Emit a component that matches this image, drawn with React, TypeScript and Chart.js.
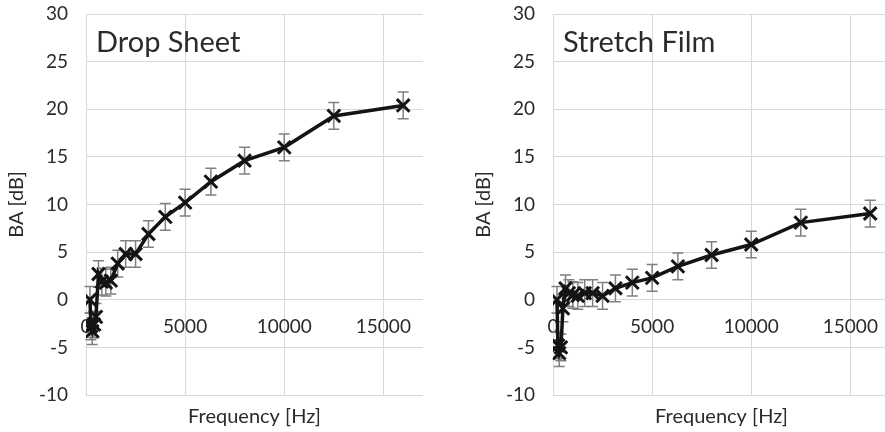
import React, { useEffect, useRef } from "react";
import { Chart, registerables } from "chart.js";

Chart.register(...registerables);

// ---- Data ----
const frequencies = [200, 250, 315, 400, 500, 630, 800, 1000, 1250, 1600, 2000, 2500, 3150, 4000, 5000, 6300, 8000, 10000, 12500, 16000];

const dropSheetBA = [0.0, -2.8, -3.3, -2.6, -1.8, 2.7, 1.9, 1.8, 2.0, 3.8, 4.8, 4.8, 6.9, 8.7, 10.2, 12.4, 14.6, 16.0, 19.3, 20.4];
const dropSheetErr = [1.4, 1.4, 1.4, 1.4, 1.4, 1.4, 1.4, 1.4, 1.4, 1.4, 1.4, 1.4, 1.4, 1.4, 1.4, 1.4, 1.4, 1.4, 1.4, 1.4];

const stretchFilmBA = [0.0, -4.8, -5.6, -5.0, -0.9, 1.2, 0.7, 0.5, 0.4, 0.7, 0.7, 0.4, 1.2, 1.8, 2.3, 3.5, 4.7, 5.8, 8.1, 9.05];
const stretchFilmErr = [1.4, 1.4, 1.4, 1.4, 1.4, 1.4, 1.4, 1.4, 1.4, 1.4, 1.4, 1.4, 1.4, 1.4, 1.4, 1.4, 1.4, 1.4, 1.4, 1.4];

const xTickValues = [0, 5000, 10000, 15000];
const yTicksMin = -10;
const yTicksMax = 30;
const yStep = 5;
const xMin = 0;
const xMax = 17000;

const xAxisTitle = "Frequency [Hz]";
const yAxisTitle = "BA [dB]";

const FONT = "Lato, 'Open Sans', sans-serif";
const TEXT = "#2b2b2b";
const GRID = "#d9d9d9";

const errorBarPlugin = {
  id: "errorBars",
  beforeDatasetsDraw(chart: any) {
    const errs: number[] = chart.options.plugins.errorBars?.errors || [];
    const ds = chart.data.datasets[0];
    const xs = chart.scales.x;
    const ys = chart.scales.y;
    const ctx = chart.ctx;
    ctx.save();
    ctx.strokeStyle = "#808080";
    ctx.lineWidth = 1.5;
    ds.data.forEach((p: any, i: number) => {
      const e = errs[i] || 0;
      const px = xs.getPixelForValue(p.x);
      const yTop = ys.getPixelForValue(p.y + e);
      const yBot = ys.getPixelForValue(p.y - e);
      ctx.beginPath();
      ctx.moveTo(px, yTop);
      ctx.lineTo(px, yBot);
      ctx.moveTo(px - 5.5, yTop);
      ctx.lineTo(px + 5.5, yTop);
      ctx.moveTo(px - 5.5, yBot);
      ctx.lineTo(px + 5.5, yBot);
      ctx.stroke();
    });
    ctx.restore();
  },
};

const panelLabelPlugin = {
  id: "panelLabel",
  afterDraw(chart: any) {
    const text: string = chart.options.plugins.panelLabel?.text || "";
    const ctx = chart.ctx;
    const area = chart.chartArea;
    ctx.save();
    ctx.fillStyle = TEXT;
    ctx.font = `29px ${FONT}`;
    ctx.textAlign = "left";
    ctx.textBaseline = "alphabetic";
    ctx.fillText(text, area.left + 10, area.top + 38);
    ctx.restore();
  },
};

function makeConfig(label: string, values: number[], errors: number[]): any {
  const points = frequencies.map((f, i) => ({ x: f, y: values[i] }));
  return {
    type: "scatter",
    data: {
      datasets: [
        {
          data: points,
          showLine: true,
          borderColor: "#141414",
          borderWidth: 3.5,
          tension: 0,
          pointStyle: "crossRot",
          pointRadius: 9,
          pointBorderWidth: 3,
          pointBorderColor: "#141414",
          pointBackgroundColor: "#141414",
        },
      ],
    },
    options: {
      responsive: false,
      animation: false,
      layout: { padding: { top: 14, right: 17, left: 0, bottom: 0 } },
      plugins: {
        legend: { display: false },
        tooltip: { enabled: false },
        errorBars: { errors },
        panelLabel: { text: label },
      },
      scales: {
        x: {
          type: "linear",
          position: { y: 0 },
          min: xMin,
          max: xMax,
          afterBuildTicks(scale: any) {
            scale.ticks = xTickValues.map((v) => ({ value: v }));
          },
          ticks: {
            color: TEXT,
            font: { family: FONT, size: 19 },
            padding: 0,
            maxRotation: 0,
            autoSkip: false,
            callback: (v: any) => String(v),
          },
          grid: { color: GRID, lineWidth: 1, drawTicks: true, tickLength: 16, tickColor: "rgba(0,0,0,0)" },
          border: { display: false },
        },
        xTitle: {
          type: "linear",
          position: "bottom",
          min: xMin,
          max: xMax,
          ticks: { display: false },
          grid: { display: false },
          border: { display: false },
          title: {
            display: true,
            text: xAxisTitle,
            color: TEXT,
            font: { family: FONT, size: 20 },
            padding: { top: 0, bottom: 3 },
          },
          afterFit(scale: any) {
            scale.height = 37;
          },
        },
        y: {
          type: "linear",
          position: "left",
          min: yTicksMin,
          max: yTicksMax,
          ticks: {
            stepSize: yStep,
            color: TEXT,
            font: { family: FONT, size: 19 },
            padding: 0,
          },
          grid: { color: GRID, lineWidth: 1, drawTicks: true, tickLength: 18, tickColor: "rgba(0,0,0,0)" },
          border: { display: false },
          title: {
            display: true,
            text: yAxisTitle,
            color: TEXT,
            font: { family: FONT, size: 20 },
            padding: { top: 5, bottom: 0 },
          },
          afterFit(scale: any) {
            scale.width = 86;
          },
        },
      },
    },
    plugins: [errorBarPlugin, panelLabelPlugin],
  };
}

function Panel({ label, values, errors, left }: { label: string; values: number[]; errors: number[]; left: number }) {
  const ref = useRef<HTMLCanvasElement | null>(null);
  useEffect(() => {
    if (!ref.current) return;
    const chart = new Chart(ref.current, makeConfig(label, values, errors));
    return () => chart.destroy();
  }, [label, values, errors]);
  return (
    <div style={{ position: "absolute", left, top: 0, width: 440, height: 432 }}>
      <canvas ref={ref} width={440} height={432} style={{ width: 440, height: 432, display: "block" }} />
    </div>
  );
}

export default function App() {
  return (
    <div
      style={{
        position: "fixed",
        left: 0,
        top: 0,
        width: 885,
        height: 432,
        overflow: "hidden",
        background: "#ffffff",
      }}
    >
      <Panel label="Drop Sheet" values={dropSheetBA} errors={dropSheetErr} left={0} />
      <Panel label="Stretch Film" values={stretchFilmBA} errors={stretchFilmErr} left={467} />
    </div>
  );
}
